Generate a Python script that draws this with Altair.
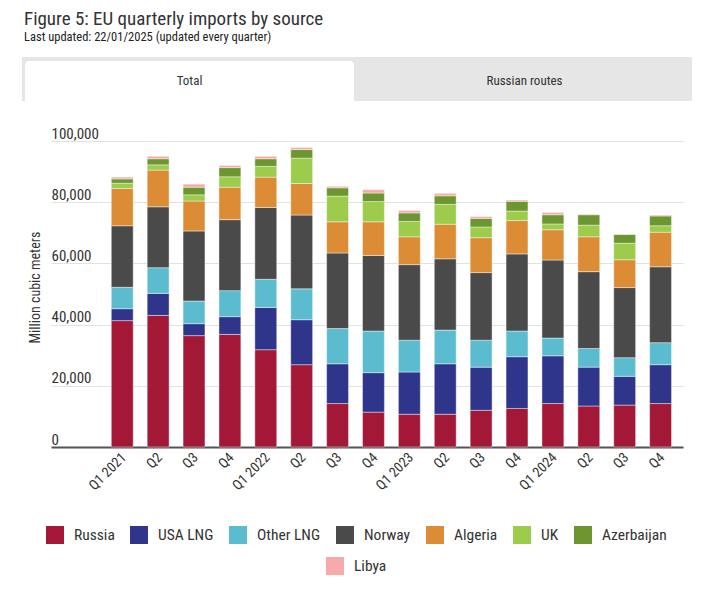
import altair as alt
import pandas as pd

FONT = "Liberation Sans Narrow, Roboto Condensed, DejaVu Sans Condensed, Liberation Sans, sans-serif"

# ---- data (million cubic meters) ----
quarter_keys = ["2021Q1", "2021Q2", "2021Q3", "2021Q4",
                "2022Q1", "2022Q2", "2022Q3", "2022Q4",
                "2023Q1", "2023Q2", "2023Q3", "2023Q4",
                "2024Q1", "2024Q2", "2024Q3", "2024Q4"]
quarter_labels = ["Q1 2021", "Q2", "Q3", "Q4",
                  "Q1 2022", "Q2", "Q3", "Q4",
                  "Q1 2023", "Q2", "Q3", "Q4",
                  "Q1 2024", "Q2", "Q3", "Q4"]

sources = ["Russia", "USA LNG", "Other LNG", "Norway", "Algeria", "UK", "Azerbaijan", "Libya"]
colors = ["#A31737", "#2E358B", "#5CBCCF", "#4A4A4A", "#DC8C35", "#9DCB4B", "#6C962F", "#F6AAAA"]

russia     = [41300, 43000, 36400, 36800, 31800, 26900, 14200, 11400, 10700, 10700, 12000, 12600, 14200, 13400, 13700, 14200]
usa_lng    = [3900, 7200, 3900, 5800, 13800, 14700, 13000, 12900, 13800, 16500, 14100, 16900, 15600, 12700, 9400, 12700]
other_lng  = [7000, 8400, 7400, 8500, 9200, 10100, 11500, 13600, 10400, 11000, 8800, 8400, 5800, 6100, 6100, 7200]
norway     = [20100, 19900, 22900, 23200, 23500, 24100, 24700, 24700, 24700, 23300, 22100, 25200, 25500, 25100, 22900, 24800]
algeria    = [12200, 12000, 9800, 10600, 9900, 10300, 10200, 11000, 9100, 11300, 11400, 10900, 9900, 11400, 9100, 11300]
uk         = [1700, 1700, 2000, 3400, 3500, 8300, 8400, 6600, 5000, 6500, 3500, 3100, 1900, 3800, 5400, 2100]
azerbaijan = [1400, 2000, 2500, 3000, 2500, 2800, 2700, 2800, 2800, 2800, 2800, 3200, 3000, 3400, 2900, 3200]
libya      = [600, 800, 1000, 700, 800, 700, 500, 1100, 800, 800, 600, 400, 700, 200, 0, 300]

tabs = ["Total", "Russian routes"]
y_ticks = [0, 20000, 40000, 60000, 80000, 100000]

series = [russia, usa_lng, other_lng, norway, algeria, uk, azerbaijan, libya]
rows = []
for order, (name, vals) in enumerate(zip(sources, series)):
    for q, v in zip(quarter_keys, vals):
        rows.append({"quarter": q, "source": name, "value": v, "order": order})
df = pd.DataFrame(rows)

label_expr = ("[" + ",".join(f"'{l}'" for l in quarter_labels) + "][indexof(["
              + ",".join(f"'{k}'" for k in quarter_keys) + "], datum.value)]")

x_enc = alt.X(
    "quarter:N", sort=quarter_keys, title=None,
    scale=alt.Scale(paddingInner=0.39, paddingOuter=1, align=0.84),
    axis=alt.Axis(labelExpr=label_expr, labelAngle=-45, labelAlign="right",
                  labelBaseline="middle", labelFontSize=14, labelColor="#333",
                  labelFont=FONT, labelPadding=8, labelOffset=2, ticks=False,
                  domainColor="#555", domainWidth=2, grid=False),
)
y_enc = alt.Y(
    "y0:Q", scale=alt.Scale(domain=[0, 100000], nice=False),
    axis=alt.Axis(values=y_ticks, format=",d", labelAlign="left", labelBaseline="alphabetic",
                  labelPadding=0, labelOffset=-3, ticks=False, tickSize=0, domain=False,
                  grid=True, gridColor="#e2e2e2", labelFontSize=15, labelColor="#333",
                  labelFont=FONT, title="Million cubic meters", titleFont=FONT,
                  titleFontSize=14, titleFontWeight="normal", titleColor="#333",
                  titleX=-9, titleY=146, titleAnchor="middle"),
)

base = alt.Chart(df).transform_stack(
    stack="value", groupby=["quarter"], as_=["y0", "y1"],
    sort=[alt.SortField("order", "ascending")],
)

legend_common = dict(orient="none", direction="horizontal", title=None, symbolType="square",
                     symbolSize=324, symbolStrokeWidth=0, labelFontSize=15.5, labelFont=FONT,
                     labelColor="#333", labelOffset=10)

bars_main = base.transform_filter("datum.source != 'Libya'").mark_bar(
    stroke="white", strokeWidth=0.6, strokeOpacity=0.7
).encode(
    x=x_enc, y=y_enc, y2="y1:Q",
    color=alt.Color("source:N", sort=sources[:7],
                    scale=alt.Scale(domain=sources[:7], range=colors[:7]),
                    legend=alt.Legend(legendX=-5, legendY=385, columnPadding=15, **legend_common)),
)
bars_libya = base.transform_filter("datum.source == 'Libya'").mark_bar(
    stroke="white", strokeWidth=0.6, strokeOpacity=0.7
).encode(
    x=x_enc, y=y_enc, y2="y1:Q",
    color=alt.Color("source:N",
                    scale=alt.Scale(domain=sources[7:], range=colors[7:]),
                    legend=alt.Legend(legendX=275, legendY=416, **legend_common)),
)

main = alt.layer(bars_main, bars_libya).resolve_scale(color="independent").properties(
    width=632, height=306
)

# ---- tabs ----
tab_df = pd.DataFrame({"tab": tabs, "active": [True, False]})
tab_base = alt.Chart(tab_df).encode(
    x=alt.X("tab:N", sort=tabs, axis=None,
            scale=alt.Scale(paddingInner=0, paddingOuter=0, range=[-29, 641]))
)
tab_strip = tab_base.mark_bar(color="#e6e6e6")
tab_white = tab_base.transform_filter("datum.active").mark_bar(
    color="white", cornerRadiusTopLeft=4, cornerRadiusTopRight=4,
    width={"band": 0.982}, yOffset=4
)
tab_text = tab_base.mark_text(font=FONT, fontSize=13, color="#333", dy=2).encode(text="tab:N")
tabs_chart = alt.layer(tab_strip, tab_white, tab_text).properties(width=632, height=44)

chart = alt.vconcat(tabs_chart, main, spacing=25).properties(
    title=alt.Title("Figure 5: EU quarterly imports by source",
                    subtitle="Last updated: 22/01/2025 (updated every quarter)",
                    anchor="start", font=FONT, fontSize=19, fontWeight="normal", color="#333",
                    subtitleFont=FONT, subtitleFontSize=12.5, subtitleColor="#222",
                    subtitlePadding=2, offset=14, dx=2),
    padding={"left": 14, "top": 1, "right": 0, "bottom": 0},
).configure_view(stroke=None)

chart.save("out.html", embed_options={"renderer": "svg", "actions": False})
